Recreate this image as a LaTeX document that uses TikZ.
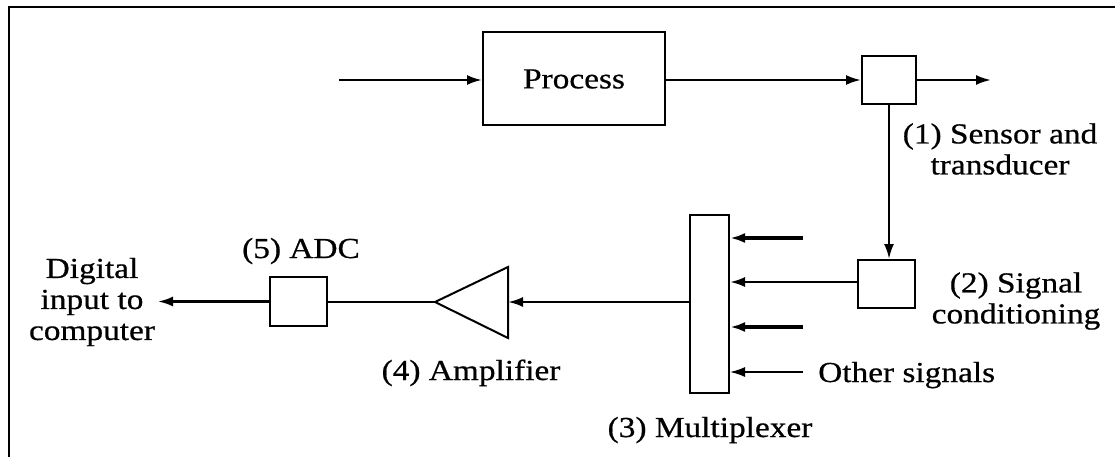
\documentclass[tikz,border=0pt]{standalone}
\usepackage{fontspec}
\setmainfont{Liberation Serif}[FakeStretch=1.15,FakeBold=0.6]
\usetikzlibrary{arrows.meta}
\begin{document}
\begin{tikzpicture}[x=1pt,y=-1pt,
  blk/.style={draw,line width=2pt,inner sep=0pt,fill=white},
  conn/.style={line width=2.4pt},
  thk/.style={line width=4pt},
  arr/.style={conn,-{Latex[length=15pt,width=10pt]}},
  lbl/.style={font=\fontsize{29}{31}\selectfont,inner sep=0pt,align=center},
]
\useasboundingbox (0,0) rectangle (1115,457);
\draw[line width=2.5pt] (9,457) -- (9,7) -- (1115,7);

% blocks
\node[blk,lbl,minimum width=182pt,minimum height=93pt] (proc) at (574,79) {Process};
\node[blk,minimum width=54pt,minimum height=48pt] (sens) at (889,80) {};
\node[blk,minimum width=57pt,minimum height=48pt] (sig) at (886.5,284) {};
\node[blk,minimum width=39pt,minimum height=178pt] (mux) at (709.5,304) {};
\node[blk,minimum width=57pt,minimum height=49pt] (adc) at (298.5,301.5) {};

% amplifier triangle
\coordinate (ampT) at (508,267);
\coordinate (ampB) at (508,338);
\coordinate (ampA) at (435,302);
\coordinate (ampR) at (508,302);
\draw[line width=2pt,line join=miter] (ampT) -- (ampB) -- (ampA) -- cycle;

% free ends
\coordinate (inS) at (339,80);
\coordinate (outE) at (991,80);
\coordinate (m1) at (803,238);
\coordinate (m3) at (803,327);
\coordinate (m4) at (803,372);
\coordinate (dig) at (158,301.5);

% connectors
\draw[arr] (inS) -- (proc.west |- inS);
\draw[arr] (proc.east |- sens.west) -- (sens.west);
\draw[arr] (sens.east) -- (outE);
\draw[arr] (sens.south) -- (sens.south |- sig.north);
\draw[arr] (sig.west |- 0,282) -- (mux.east |- 0,282);
\draw[arr,thk] (m1) -- (mux.east |- m1);
\draw[arr,thk] (m3) -- (mux.east |- m3);
\draw[arr,line width=1.6pt] (m4) -- (mux.east |- m4);
\draw[arr] (mux.west |- ampR) -- (ampR);
\draw[conn] (ampA) -- (adc.east |- ampA);
\draw[arr] (adc.west) -- (dig);

% labels
\node[lbl] (l1) at (1000,149) {(1) Sensor and\\transducer};
\node[lbl] (l2) at (1016,301) {(2) Signal\\conditioning};
\node[lbl,anchor=base] (l3) at (710,437) {(3) Multiplexer};
\node[lbl,anchor=base west] (lo) at (818,382) {Other signals};
\node[lbl,anchor=base] (l4) at (471,380) {(4) Amplifier};
\node[lbl,anchor=base] (l5) at (301,258) {(5) ADC};
\node[lbl] (ld) at (92,302) {Digital\\input to\\computer};
\end{tikzpicture}
\end{document}
